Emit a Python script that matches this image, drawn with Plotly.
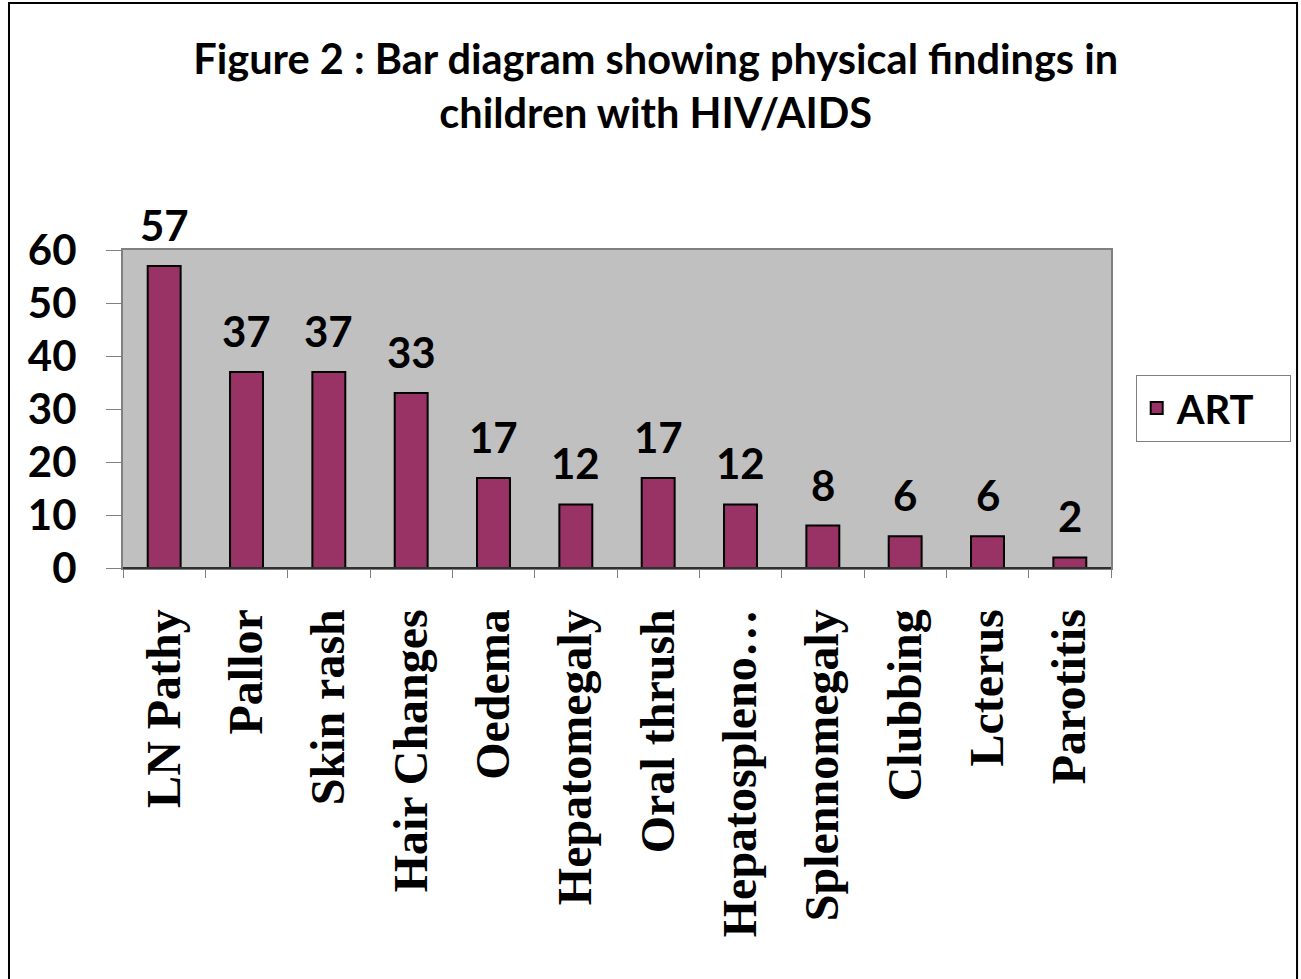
import plotly.graph_objects as go

categories = ["LN Pathy", "Pallor", "Skin rash", "Hair Changes", "Oedema", "Hepatomegaly",
              "Oral thrush", "Hepatospleno…", "Splennomegaly", "Clubbing", "Lcterus", "Parotitis"]
art_values = [57, 37, 37, 33, 17, 12, 17, 12, 8, 6, 6, 2]
y_ticks = [0, 10, 20, 30, 40, 50, 60]

fig = go.Figure()
fig.add_trace(go.Bar(
    x=categories, y=art_values, name="ART",
    marker=dict(color="#993366", line=dict(color="black", width=2)),
    width=0.4,
))

for c, v in zip(categories, art_values):
    fig.add_annotation(x=c, y=v, xref="x", yref="y", text=f"<b>{v}</b>", showarrow=False,
                       yanchor="bottom", yshift=14,
                       font=dict(family="Lato", size=42, color="black"))

fig.update_layout(
    width=1301, height=979,
    margin=dict(l=123, r=190, t=250, b=411, autoexpand=False),
    paper_bgcolor="white", plot_bgcolor="#C0C0C0",
    title=dict(text="<b>Figure 2 : Bar diagram showing physical findings in<br>children with HIV/AIDS</b>",
               x=0.504, xanchor="center", y=0.924, yref="container", yanchor="middle",
               font=dict(family="Lato", size=41.5, color="black")),
    showlegend=True,
    legend=dict(x=1.025, y=0.503, xanchor="left", yanchor="middle",
                orientation="h", entrywidth=108, entrywidthmode="pixels",
                bgcolor="white", bordercolor="#808080", borderwidth=1,
                font=dict(family="Lato", size=40, color="black", weight="bold"),
                itemsizing="constant"),
    bargap=0.6,
)
fig.update_yaxes(range=[0, 60], tickvals=y_ticks, ticks="outside", ticklen=15, tickcolor="#808080",
                 showgrid=False, showline=True, linecolor="#808080", linewidth=2, mirror=True,
                 tickfont=dict(family="Lato", size=42, color="black", weight="bold"),
                 ticklabelstandoff=21, zeroline=False, automargin=False)
fig.update_xaxes(tickangle=-90, ticks="outside", ticklen=8, tickcolor="#808080", tickson="boundaries",
                 showline=True, linecolor="#808080", linewidth=2, mirror=True,
                 tickfont=dict(family="Liberation Serif", size=48, color="black", weight="bold"),
                 ticklabelstandoff=20, automargin=False)
fig.add_shape(type="line", xref="paper", yref="paper", x0=0, x1=1, y0=0, y1=0,
              line=dict(color="#303030", width=2))
fig.add_shape(type="rect", xref="paper", yref="paper", x0=-0.1154, x1=1.1883, y0=-1.32, y1=1.7767,
              line=dict(color="black", width=2), fillcolor="rgba(0,0,0,0)", layer="above")

fig.write_html("out.html", config={"displayModeBar": False},
               post_script="document.body.style.margin='0';")
